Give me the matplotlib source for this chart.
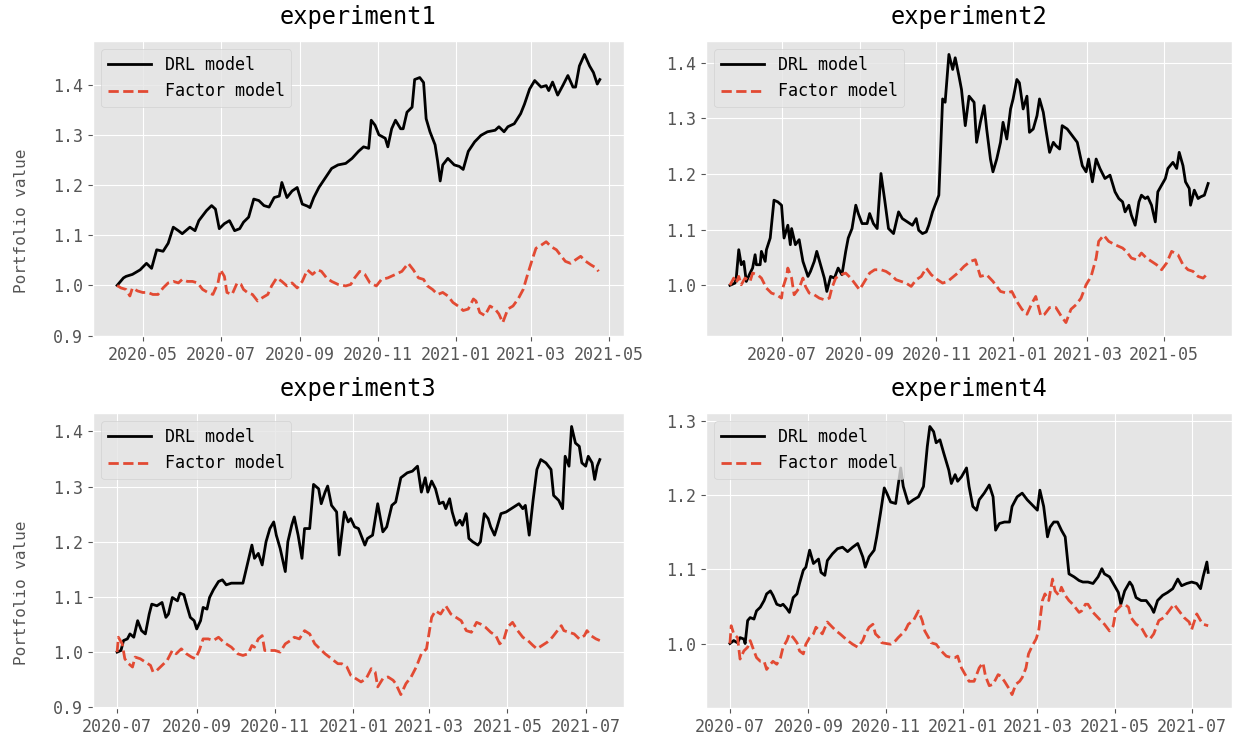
import matplotlib
matplotlib.use('Agg')
import matplotlib.pyplot as plt
import matplotlib.dates as mdates
import matplotlib.ticker as mticker
import pandas as pd

plt.style.use('ggplot')
plt.rcParams['font.family'] = ['DejaVu Sans Mono']
plt.rcParams['axes.unicode_minus'] = False

# ---- data (day offset from start, portfolio value) ----
titles = ['experiment1', 'experiment2', 'experiment3', 'experiment4']
starts = ['2020-04-11', '2020-05-21', '2020-07-01', '2020-07-01']

exp1_drl_days = [0, 5, 7, 12, 18, 23, 27, 31, 36, 40, 44, 48, 51, 57, 61, 64, 70, 74, 77, 80,
                 84, 88, 92, 96, 99, 103, 107, 111, 115, 119, 123, 127, 129, 133, 137, 141, 145, 149, 151, 154,
                 158, 163, 168, 173, 179, 184, 189, 193, 197, 199, 202, 205, 210, 212, 215, 218, 222, 224, 227, 231,
                 233, 237, 240, 242, 245, 249, 251, 253, 255, 259, 264, 268, 271, 275, 280, 285, 290, 296, 299, 303,
                 306, 311, 316, 319, 323, 327, 332, 336, 338, 341, 345, 349, 353, 357, 359, 362, 366, 370, 373, 376,
                 378]
exp1_drl = [1.000, 1.015, 1.018, 1.022, 1.031, 1.044, 1.034, 1.071, 1.068, 1.084,
            1.116, 1.109, 1.103, 1.116, 1.109, 1.129, 1.149, 1.159, 1.152, 1.113,
            1.123, 1.129, 1.109, 1.113, 1.126, 1.136, 1.172, 1.169, 1.159, 1.156,
            1.175, 1.178, 1.205, 1.175, 1.188, 1.195, 1.162, 1.158, 1.155, 1.175,
            1.195, 1.214, 1.233, 1.240, 1.243, 1.253, 1.267, 1.276, 1.273, 1.329,
            1.319, 1.300, 1.293, 1.276, 1.312, 1.329, 1.312, 1.312, 1.345, 1.355,
            1.410, 1.414, 1.404, 1.332, 1.306, 1.280, 1.247, 1.208, 1.240, 1.253,
            1.240, 1.237, 1.231, 1.267, 1.286, 1.299, 1.306, 1.309, 1.316, 1.306,
            1.316, 1.322, 1.342, 1.361, 1.391, 1.408, 1.395, 1.398, 1.388, 1.405,
            1.379, 1.398, 1.418, 1.395, 1.395, 1.437, 1.460, 1.437, 1.424, 1.401,
            1.410]
exp1_fac_days = [0, 3, 7, 10, 12, 16, 20, 24, 28, 32, 36, 40, 44, 48, 51, 55, 59, 63, 67, 71,
                 75, 79, 81, 84, 86, 90, 94, 97, 99, 102, 106, 110, 114, 118, 121, 125, 129, 133, 137, 141,
                 145, 149, 153, 157, 160, 164, 168, 173, 179, 183, 186, 190, 194, 198, 203, 207, 212, 218, 223, 228,
                 232, 236, 240, 243, 247, 251, 255, 259, 263, 267, 271, 275, 279, 281, 284, 288, 292, 296, 299, 302,
                 306, 310, 314, 318, 321, 325, 328, 332, 336, 340, 344, 347, 351, 355, 359, 363, 367, 371, 375, 377]
exp1_fac = [1.000, 0.995, 0.992, 0.979, 0.995, 0.989, 0.986, 0.986, 0.982, 0.982,
            0.995, 1.005, 1.008, 1.005, 1.012, 1.008, 1.008, 1.005, 0.992, 0.986,
            0.982, 1.005, 1.031, 1.018, 0.986, 0.982, 1.005, 1.002, 0.992, 0.986,
            0.982, 0.969, 0.976, 0.982, 0.999, 1.015, 1.008, 0.999, 1.005, 0.995,
            1.008, 1.031, 1.022, 1.031, 1.028, 1.015, 1.008, 1.002, 0.999, 1.002,
            1.015, 1.028, 1.022, 1.005, 0.999, 1.012, 1.015, 1.022, 1.028, 1.044,
            1.031, 1.015, 1.012, 0.999, 0.992, 0.982, 0.986, 0.979, 0.966, 0.959,
            0.950, 0.953, 0.973, 0.969, 0.946, 0.940, 0.959, 0.953, 0.943, 0.926,
            0.953, 0.959, 0.973, 0.992, 1.018, 1.051, 1.074, 1.080, 1.087, 1.077,
            1.071, 1.061, 1.048, 1.044, 1.051, 1.058, 1.048, 1.041, 1.035, 1.028]

exp2_drl_days = [0, 4, 5, 7, 9, 11, 13, 16, 18, 20, 21, 24, 25, 28, 29, 32, 35, 38, 41, 43,
                 46, 48, 49, 52, 55, 58, 62, 64, 67, 69, 72, 75, 77, 80, 83, 86, 89, 92, 94, 97,
                 100, 102, 105, 109, 111, 114, 117, 120, 123, 126, 130, 134, 137, 141, 145, 148, 150, 153, 156, 158,
                 161, 164, 166, 169, 171, 174, 177, 179, 182, 184, 187, 190, 194, 196, 199, 202, 204, 207, 209, 212,
                 215, 217, 220, 223, 225, 228, 230, 233, 236, 238, 241, 244, 246, 249, 251, 254, 257, 259, 262, 264,
                 268, 272, 276, 280, 283, 285, 288, 291, 294, 298, 302, 306, 309, 312, 314, 317, 319, 322, 325, 327,
                 330, 332, 335, 338, 340, 343, 346, 348, 352, 355, 357, 360, 362, 365, 366, 369, 372, 374, 377, 380]
exp2_drl = [1.000, 1.004, 1.013, 1.064, 1.037, 1.043, 1.007, 1.022, 1.031, 1.055,
            1.037, 1.037, 1.061, 1.043, 1.064, 1.085, 1.153, 1.150, 1.144, 1.085,
            1.108, 1.073, 1.102, 1.073, 1.082, 1.043, 1.016, 1.025, 1.043, 1.061,
            1.037, 1.013, 0.989, 1.016, 1.013, 1.031, 1.019, 1.061, 1.085, 1.102,
            1.144, 1.129, 1.111, 1.111, 1.129, 1.111, 1.102, 1.201, 1.153, 1.102,
            1.093, 1.132, 1.120, 1.114, 1.108, 1.120, 1.099, 1.093, 1.096, 1.108,
            1.132, 1.150, 1.162, 1.335, 1.329, 1.415, 1.388, 1.409, 1.376, 1.352,
            1.287, 1.340, 1.329, 1.257, 1.293, 1.323, 1.281, 1.227, 1.204, 1.227,
            1.257, 1.293, 1.263, 1.317, 1.335, 1.370, 1.364, 1.317, 1.340, 1.275,
            1.281, 1.305, 1.335, 1.311, 1.281, 1.239, 1.257, 1.251, 1.245, 1.287,
            1.281, 1.269, 1.257, 1.215, 1.204, 1.227, 1.186, 1.227, 1.210, 1.192,
            1.198, 1.168, 1.156, 1.150, 1.132, 1.144, 1.126, 1.108, 1.150, 1.162,
            1.156, 1.159, 1.144, 1.114, 1.168, 1.180, 1.192, 1.210, 1.221, 1.210,
            1.239, 1.215, 1.186, 1.174, 1.144, 1.171, 1.156, 1.159, 1.162, 1.183]
exp2_fac_days = [0, 3, 5, 7, 9, 12, 16, 18, 22, 25, 29, 33, 37, 41, 42, 45, 46, 49, 51, 55,
                 58, 60, 63, 67, 71, 75, 79, 81, 84, 88, 92, 96, 100, 103, 107, 111, 115, 120, 124, 128,
                 132, 136, 140, 144, 148, 152, 156, 160, 165, 169, 173, 181, 186, 191, 195, 199, 204, 209, 215, 220,
                 224, 228, 232, 236, 240, 243, 247, 250, 254, 259, 264, 267, 271, 275, 279, 283, 287, 291, 293, 297,
                 301, 306, 312, 315, 319, 323, 327, 331, 335, 339, 343, 347, 351, 356, 360, 364, 368, 372, 376, 380]
exp2_fac = [1.000, 1.013, 1.004, 1.016, 1.001, 1.013, 1.007, 1.022, 1.019, 1.013,
            0.995, 0.986, 0.983, 0.977, 0.995, 1.016, 1.031, 1.013, 0.983, 0.995,
            1.013, 0.998, 0.986, 0.983, 0.977, 0.974, 0.977, 0.995, 1.013, 1.019,
            1.022, 1.013, 1.001, 0.992, 1.007, 1.022, 1.028, 1.028, 1.025, 1.019,
            1.010, 1.007, 1.004, 0.998, 1.010, 1.016, 1.031, 1.019, 1.010, 1.004,
            1.007, 1.022, 1.034, 1.043, 1.046, 1.016, 1.019, 1.007, 0.989, 0.986,
            0.989, 0.971, 0.957, 0.948, 0.968, 0.980, 0.945, 0.948, 0.960, 0.960,
            0.942, 0.933, 0.957, 0.965, 0.977, 1.001, 1.016, 1.049, 1.079, 1.090,
            1.079, 1.073, 1.067, 1.061, 1.049, 1.046, 1.058, 1.049, 1.043, 1.037,
            1.028, 1.040, 1.061, 1.055, 1.037, 1.028, 1.025, 1.016, 1.013, 1.022]

exp3_drl_days = [0, 3, 5, 8, 10, 13, 16, 19, 22, 25, 27, 31, 35, 38, 40, 43, 47, 49, 52, 54,
                 57, 60, 62, 65, 67, 70, 72, 75, 79, 82, 85, 89, 94, 98, 102, 105, 107, 110, 113, 116,
                 119, 122, 124, 127, 131, 133, 136, 138, 141, 144, 146, 150, 153, 157, 159, 162, 164, 167, 171, 173,
                 177, 180, 182, 185, 188, 190, 193, 195, 199, 203, 207, 210, 214, 217, 221, 226, 230, 234, 237, 240,
                 242, 245, 248, 251, 254, 256, 259, 261, 264, 267, 269, 272, 274, 277, 281, 283, 286, 289, 291, 294,
                 296, 299, 303, 307, 309, 313, 316, 318, 321, 324, 327, 330, 334, 338, 340, 344, 347, 349, 352, 354,
                 357, 360, 362, 365, 367, 370, 372, 374, 376]
exp3_drl = [1.000, 1.003, 1.021, 1.024, 1.033, 1.027, 1.057, 1.039, 1.033, 1.069,
            1.087, 1.084, 1.090, 1.063, 1.069, 1.099, 1.093, 1.107, 1.104, 1.087,
            1.063, 1.057, 1.042, 1.057, 1.081, 1.078, 1.099, 1.113, 1.128, 1.131,
            1.122, 1.125, 1.125, 1.125, 1.164, 1.194, 1.170, 1.179, 1.158, 1.200,
            1.224, 1.236, 1.212, 1.188, 1.146, 1.200, 1.230, 1.245, 1.212, 1.170,
            1.224, 1.224, 1.304, 1.296, 1.269, 1.290, 1.301, 1.266, 1.254, 1.176,
            1.254, 1.236, 1.242, 1.227, 1.224, 1.212, 1.194, 1.206, 1.212, 1.269,
            1.218, 1.227, 1.266, 1.272, 1.316, 1.325, 1.328, 1.337, 1.290, 1.316,
            1.290, 1.310, 1.296, 1.269, 1.272, 1.260, 1.278, 1.254, 1.230, 1.239,
            1.230, 1.251, 1.206, 1.200, 1.194, 1.200, 1.251, 1.242, 1.227, 1.212,
            1.227, 1.251, 1.254, 1.260, 1.263, 1.269, 1.260, 1.266, 1.212, 1.275,
            1.331, 1.349, 1.343, 1.331, 1.284, 1.275, 1.260, 1.355, 1.337, 1.409,
            1.379, 1.373, 1.343, 1.337, 1.355, 1.343, 1.313, 1.337, 1.349]
exp3_fac_days = [0, 1, 4, 6, 9, 12, 14, 18, 22, 26, 28, 31, 35, 39, 43, 46, 50, 54, 58, 61,
                 64, 67, 71, 75, 79, 83, 87, 89, 94, 98, 102, 105, 107, 110, 113, 115, 119, 123, 127, 131,
                 135, 138, 142, 146, 150, 154, 158, 162, 167, 172, 175, 179, 182, 186, 190, 194, 198, 201, 203, 207,
                 211, 215, 217, 221, 225, 229, 233, 237, 241, 245, 248, 252, 256, 260, 264, 268, 272, 276, 280, 283,
                 287, 291, 295, 298, 301, 304, 308, 312, 316, 320, 324, 327, 331, 335, 339, 343, 346, 348, 352, 356,
                 360, 364, 366, 369, 373, 376]
exp3_fac = [1.000, 1.027, 1.015, 0.988, 0.979, 0.973, 0.991, 0.988, 0.982, 0.976,
            0.964, 0.967, 0.976, 0.985, 1.003, 0.997, 1.006, 0.997, 0.991, 0.988,
            1.003, 1.024, 1.024, 1.021, 1.027, 1.018, 1.012, 1.009, 0.997, 0.994,
            0.997, 1.012, 1.009, 1.024, 1.030, 1.003, 1.003, 1.003, 1.000, 1.015,
            1.021, 1.027, 1.024, 1.039, 1.033, 1.015, 1.006, 0.997, 0.988, 0.979,
            0.979, 0.973, 0.958, 0.952, 0.946, 0.952, 0.970, 0.964, 0.937, 0.952,
            0.955, 0.949, 0.943, 0.923, 0.943, 0.955, 0.973, 0.997, 1.006, 1.063,
            1.075, 1.069, 1.084, 1.069, 1.063, 1.057, 1.039, 1.036, 1.054, 1.051,
            1.045, 1.036, 1.030, 1.015, 1.021, 1.045, 1.054, 1.039, 1.027, 1.021,
            1.012, 1.006, 1.012, 1.018, 1.027, 1.039, 1.048, 1.039, 1.036, 1.033,
            1.024, 1.030, 1.039, 1.030, 1.024, 1.021]

exp4_drl_days = [0, 3, 6, 8, 11, 12, 14, 16, 19, 21, 24, 27, 29, 32, 34, 37, 40, 42, 45, 47,
                 50, 53, 55, 58, 60, 63, 66, 70, 72, 75, 77, 81, 85, 89, 93, 97, 101, 105, 107, 110,
                 114, 116, 119, 122, 124, 127, 131, 133, 135, 137, 141, 145, 149, 153, 156, 158, 161, 163, 166, 169,
                 173, 175, 178, 180, 183, 187, 189, 192, 195, 197, 201, 205, 208, 210, 213, 217, 221, 223, 227, 231,
                 235, 239, 243, 245, 248, 251, 253, 256, 259, 262, 265, 268, 272, 276, 279, 283, 287, 291, 294, 296,
                 300, 304, 307, 309, 312, 316, 318, 321, 325, 329, 333, 335, 338, 342, 346, 350, 354, 357, 361, 365,
                 369, 372, 374, 377, 378]
exp4_drl = [1.000, 1.004, 1.001, 1.008, 1.006, 1.000, 1.031, 1.035, 1.033, 1.044,
            1.049, 1.058, 1.067, 1.071, 1.065, 1.053, 1.051, 1.053, 1.047, 1.042,
            1.062, 1.067, 1.081, 1.099, 1.103, 1.126, 1.108, 1.114, 1.096, 1.092,
            1.112, 1.121, 1.128, 1.130, 1.124, 1.130, 1.135, 1.117, 1.103, 1.117,
            1.126, 1.144, 1.176, 1.210, 1.203, 1.191, 1.189, 1.214, 1.237, 1.212,
            1.189, 1.194, 1.198, 1.212, 1.266, 1.293, 1.286, 1.271, 1.275, 1.257,
            1.234, 1.216, 1.228, 1.219, 1.225, 1.237, 1.212, 1.185, 1.180, 1.194,
            1.203, 1.214, 1.198, 1.153, 1.162, 1.164, 1.164, 1.185, 1.198, 1.203,
            1.194, 1.187, 1.180, 1.207, 1.185, 1.144, 1.157, 1.164, 1.164, 1.153,
            1.144, 1.094, 1.090, 1.085, 1.083, 1.083, 1.081, 1.090, 1.101, 1.094,
            1.090, 1.078, 1.069, 1.053, 1.071, 1.083, 1.078, 1.062, 1.058, 1.058,
            1.049, 1.042, 1.058, 1.065, 1.069, 1.074, 1.087, 1.078, 1.081, 1.083,
            1.081, 1.074, 1.090, 1.110, 1.096]
exp4_fac_days = [0, 1, 3, 6, 8, 11, 14, 16, 19, 21, 24, 27, 29, 32, 34, 37, 40, 42, 45, 47,
                 50, 53, 55, 58, 60, 63, 66, 68, 71, 73, 77, 81, 84, 87, 89, 93, 97, 101, 105, 107,
                 110, 113, 115, 118, 120, 127, 131, 133, 136, 139, 141, 145, 149, 152, 154, 157, 159, 163, 167, 171,
                 175, 178, 180, 183, 186, 189, 193, 197, 200, 202, 205, 208, 212, 214, 217, 221, 223, 226, 229, 231,
                 234, 236, 239, 242, 244, 247, 249, 252, 255, 257, 260, 262, 265, 268, 271, 276, 278, 281, 283, 287,
                 292, 296, 300, 303, 305, 309, 312, 315, 317, 321, 325, 329, 332, 335, 339, 343, 347, 351, 355, 359,
                 363, 365, 369, 372, 374, 378]
exp4_fac = [1.000, 1.024, 1.013, 1.008, 0.979, 0.990, 0.995, 1.004, 0.990, 0.981,
            0.976, 0.976, 0.965, 0.972, 0.976, 0.972, 0.981, 0.995, 1.004, 1.013,
            1.008, 1.001, 0.990, 0.986, 0.999, 1.008, 1.013, 1.022, 1.017, 1.013,
            1.029, 1.022, 1.017, 1.013, 1.010, 1.004, 0.999, 0.995, 1.004, 1.013,
            1.022, 1.026, 1.013, 1.008, 1.001, 0.999, 1.004, 1.008, 1.013, 1.019,
            1.026, 1.031, 1.044, 1.031, 1.017, 1.008, 1.001, 0.999, 0.990, 0.983,
            0.981, 0.981, 0.983, 0.967, 0.958, 0.949, 0.949, 0.967, 0.974, 0.956,
            0.943, 0.945, 0.958, 0.956, 0.949, 0.938, 0.931, 0.945, 0.949, 0.954,
            0.967, 0.986, 0.997, 1.006, 1.017, 1.058, 1.067, 1.058, 1.087, 1.071,
            1.065, 1.076, 1.065, 1.058, 1.053, 1.042, 1.044, 1.053, 1.053, 1.042,
            1.033, 1.026, 1.017, 1.024, 1.044, 1.051, 1.053, 1.049, 1.035, 1.026,
            1.022, 1.010, 1.006, 1.013, 1.031, 1.035, 1.044, 1.053, 1.044, 1.035,
            1.029, 1.019, 1.040, 1.031, 1.026, 1.024]

drl_days = [exp1_drl_days, exp2_drl_days, exp3_drl_days, exp4_drl_days]
drl_vals = [exp1_drl, exp2_drl, exp3_drl, exp4_drl]
fac_days = [exp1_fac_days, exp2_fac_days, exp3_fac_days, exp4_fac_days]
fac_vals = [exp1_fac, exp2_fac, exp3_fac, exp4_fac]

fig, axes = plt.subplots(2, 2, figsize=(12.38, 7.46), dpi=100)
# axes rectangles in figure fractions (left, bottom, width, height)
rects = [(0.0751, 0.5496, 0.4289, 0.3954), (0.5703, 0.5496, 0.4249, 0.3954),
         (0.0751, 0.0509, 0.4289, 0.3954), (0.5703, 0.0509, 0.4249, 0.3954)]

for i, ax in enumerate(axes.flat):
    ax.set_position(rects[i])
    t0 = pd.Timestamp(starts[i])
    xd = t0 + pd.to_timedelta(drl_days[i], unit='D')
    xf = t0 + pd.to_timedelta(fac_days[i], unit='D')
    ax.plot(xd, drl_vals[i], color='black', lw=2, label='DRL model')
    ax.plot(xf, fac_vals[i], '--', color='#E24A33', lw=2, label='Factor model')
    ax.set_title(titles[i], fontsize=17, pad=12)
    ax.xaxis.set_major_locator(mdates.MonthLocator(bymonth=[1, 3, 5, 7, 9, 11]))
    ax.xaxis.set_major_formatter(mdates.DateFormatter('%Y-%m'))
    ax.yaxis.set_major_locator(mticker.MultipleLocator(0.1))
    ax.yaxis.set_major_formatter(mticker.FormatStrFormatter('%.1f'))
    ax.tick_params(labelsize=12)
    ax.legend(loc='upper left', fontsize=12, handlelength=2.6)
    if i % 2 == 0:
        ax.set_ylabel('Portfolio value', fontsize=11.5)
        ax.yaxis.set_label_coords(-0.12, 0.39)

fig.savefig('out.png', dpi=100)
